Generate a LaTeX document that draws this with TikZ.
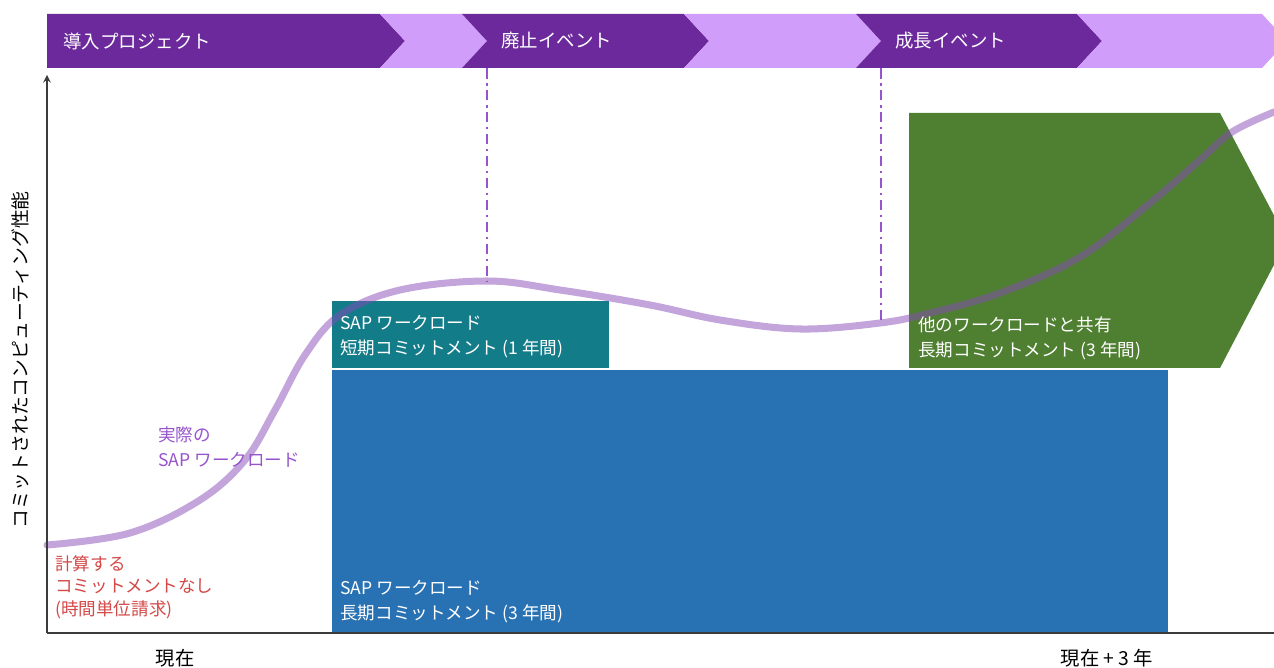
\documentclass[tikz,border=0pt]{standalone}
\usepackage{fontspec}
\setmainfont{Noto Sans CJK JP}
\definecolor{phasedark}{RGB}{108,41,155}
\definecolor{phaselight}{RGB}{208,158,250}
\definecolor{shortteal}{RGB}{19,124,137}
\definecolor{longblue}{RGB}{40,114,180}
\definecolor{sharedgreen}{RGB}{79,127,49}
\definecolor{loadpurple}{RGB}{135,75,185}
\definecolor{eventpurple}{RGB}{150,85,205}
\definecolor{nocommitred}{RGB}{212,72,72}
\definecolor{axisgray}{RGB}{60,60,60}
\tikzset{
  phase/.style={text=white, anchor=west, inner sep=0pt, font=\fontsize{10.5}{12}\selectfont},
  boxlabel/.style={text=white, anchor=west, align=left, inner sep=0pt, font=\fontsize{10}{14.2}\selectfont},
  eventline/.style={eventpurple, line width=1.4pt, dash pattern=on 6pt off 2.5pt on 1.5pt off 2.5pt},
  workload/.style={loadpurple, line width=4pt, opacity=0.5, line cap=round},
}
\begin{document}
\begin{tikzpicture}[x=0.02cm,y=-0.02cm]
  \useasboundingbox (0,0) rectangle (1274,668);

  % phase banner
  \fill[phasedark] (47,14) -- (380,14) -- (405,41) -- (380,68) -- (47,68) -- cycle;
  \fill[phaselight] (380,14) -- (462,14) -- (487,41) -- (462,68) -- (380,68) -- (405,41) -- cycle;
  \fill[phasedark] (462,14) -- (684,14) -- (709,41) -- (684,68) -- (462,68) -- (487,41) -- cycle;
  \fill[phaselight] (684,14) -- (856,14) -- (881,41) -- (856,68) -- (684,68) -- (709,41) -- cycle;
  \fill[phasedark] (856,14) -- (1077,14) -- (1102,41) -- (1077,68) -- (856,68) -- (881,41) -- cycle;
  \fill[phaselight] (1077,14) -- (1262,14) -- (1287,41) -- (1262,68) -- (1077,68) -- (1102,41) -- cycle;

  \node[phase] (Onboard) at (63,41) {導入プロジェクト};
  \node[phase] (Retire) at (501,41) {廃止イベント};
  \node[phase] (Growth) at (895,41) {成長イベント};

  % commitments
  \fill[longblue] (332,370) rectangle (1168,632);
  \fill[shortteal] (332,301) rectangle (609,368);
  \fill[sharedgreen] (909,113) -- (1220,113) -- (1287,240) -- (1220,368) -- (909,368) -- cycle;

  \coordinate (RetireTop) at (487,68);
  \coordinate (RetireLow) at (487,281);
  \coordinate (GrowthTop) at (881,68);
  \coordinate (GrowthLow) at (881,323);
  \draw[eventline] (RetireTop) -- (RetireLow);
  \draw[eventline] (GrowthTop) -- (GrowthLow);

  % actual workload
  \draw[workload] plot[smooth, tension=0.6] coordinates {(47,545) (130,533) (200,500) (245,460) (275,410) (305,355) (340,315) (400,290) (487,281) (560,290) (650,305) (720,320) (800,329) (880,323) (930,313) (1000,293) (1080,257) (1150,203) (1200,160) (1232,132) (1274,112)};

  \node[boxlabel] (ShortTerm) at (340,337) {SAP ワークロード\\短期コミットメント (1 年間)};
  \node[boxlabel] (LongTerm) at (340,602) {SAP ワークロード\\長期コミットメント (3 年間)};
  \node[boxlabel] (Shared) at (918,338) {他のワークロードと共有\\長期コミットメント (3 年間)};

  \node[boxlabel, text=eventpurple] (Actual) at (158,447) {実際の\\SAP ワークロード};
  \node[boxlabel, text=nocommitred, font=\fontsize{10}{12.7}\selectfont] (OnDemand) at (55,587) {計算する\\コミットメントなし\\(時間単位請求)};

  % axes
  \coordinate (Origin) at (47,633);
  \coordinate (YTop) at (47,75);
  \coordinate (XEnd) at (1274,633);
  \draw[axisgray, line width=0.9pt, ->, >=stealth] (Origin) -- (YTop);
  \draw[axisgray, line width=1.4pt] (Origin) -- (XEnd);

  \node[rotate=90, font=\fontsize{10.7}{12}\selectfont] (Capacity) at (20,360) {コミットされたコンピューティング性能};
  \node[font=\fontsize{11}{12}\selectfont] (Now) at (175,658) {現在};
  \node[font=\fontsize{11}{12}\selectfont] (Later) at (1107,658) {現在 + 3 年};
\end{tikzpicture}
\end{document}
